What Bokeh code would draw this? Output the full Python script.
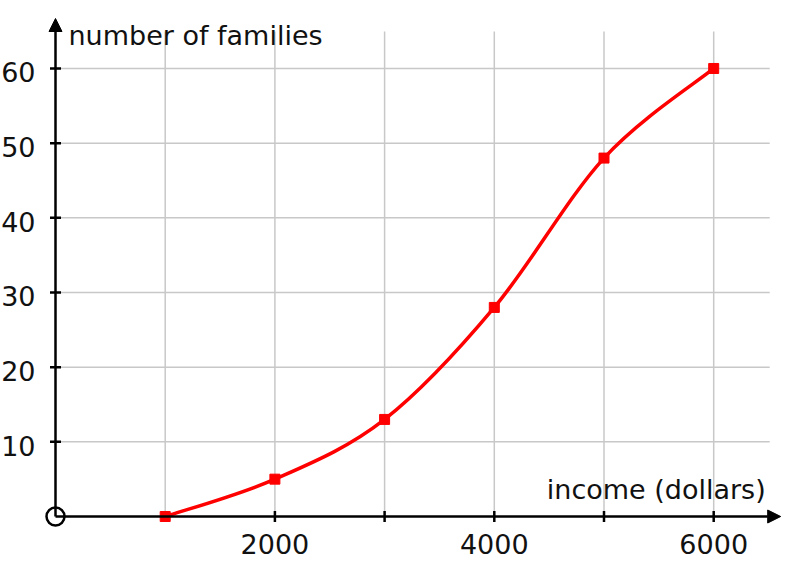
import numpy as np
from bokeh.plotting import figure
from bokeh.models import Range1d, Arrow, NormalHead
from bokeh.core.properties import value
from bokeh.embed import file_html
from bokeh.resources import INLINE

# ---- data ----
income = [1000, 2000, 3000, 4000, 5000, 6000]
families = [0, 5, 13, 28, 48, 60]
x_ticks = [1000, 2000, 3000, 4000, 5000, 6000]
x_tick_labels = ["", "2000", "", "4000", "", "6000"]
y_ticks = [10, 20, 30, 40, 50, 60]
y_tick_labels = ["10", "20", "30", "40", "50", "60"]
x_title = "income (dollars)"
y_title = "number of families"

# ---- layout ----
W, H = 797, 572
px_x = 0.1097   # px per dollar
px_y = 7.467    # px per family
ox, oy = 55, 516  # origin position inside the figure (px)
x_range = Range1d(-ox / px_x, (W - ox) / px_x)
y_range = Range1d(-(H - oy) / px_y, oy / px_y)

p = figure(width=W, height=H, x_range=x_range, y_range=y_range,
           x_axis_type=None, y_axis_type=None, output_backend="svg",
           toolbar_location=None, min_border=0, outline_line_color=None,
           background_fill_color="white", border_fill_color="white")

FONT = value("DejaVu Sans")
FS = "27px"
TXT = "#111111"
SHIFT = -10

grid_top = 485 / px_y
grid_right = 6000 + 56 / px_x
# grid
p.segment(x0=x_ticks, y0=[0] * len(x_ticks), x1=x_ticks, y1=[grid_top] * len(x_ticks),
          line_color="#c8c8c8", line_width=1.5)
p.segment(x0=[0] * len(y_ticks), y0=y_ticks, x1=[grid_right] * len(y_ticks), y1=y_ticks,
          line_color="#c8c8c8", line_width=1.5)

# axes with arrows
p.add_layout(Arrow(end=NormalHead(size=13, fill_color="black", line_color="black", line_width=1),
                   x_start=0, y_start=0, x_end=6000 + 67 / px_x, y_end=0,
                   line_color="black", line_width=2.5))
p.add_layout(Arrow(end=NormalHead(size=13, fill_color="black", line_color="black", line_width=1),
                   x_start=0, y_start=0, x_end=0, y_end=498 / px_y,
                   line_color="black", line_width=2.5))

# tick marks
p.scatter(x=x_ticks, y=[0] * len(x_ticks), marker="dash", size=11, angle=np.pi / 2,
          line_color="black", line_width=2.5)
p.scatter(x=[0] * len(y_ticks), y=y_ticks, marker="dash", size=11,
          line_color="black", line_width=2.5)

# smooth curve through points (Catmull-Rom -> cubic Bezier)
xs = np.array(income, dtype=float)
ys = np.array(families, dtype=float)
xe = np.concatenate([[xs[0]], xs, [xs[-1]]])
ye = np.concatenate([[ys[0]], ys, [ys[-1]]])
n = len(xs) - 1
bx0, by0, bx1, by1, cx0, cy0, cx1, cy1 = ([] for _ in range(8))
for i in range(n):
    j = i + 1
    bx0.append(xe[j]); by0.append(ye[j])
    bx1.append(xe[j + 1]); by1.append(ye[j + 1])
    cx0.append(xe[j] + (xe[j + 1] - xe[j - 1]) / 6)
    cy0.append(ye[j] + (ye[j + 1] - ye[j - 1]) / 6)
    cx1.append(xe[j + 1] - (xe[j + 2] - xe[j]) / 6)
    cy1.append(ye[j + 1] - (ye[j + 2] - ye[j]) / 6)
p.bezier(x0=bx0, y0=by0, x1=bx1, y1=by1, cx0=cx0, cy0=cy0, cx1=cx1, cy1=cy1,
         line_color="#ff0000", line_width=3.5)
p.scatter(x=income, y=families, marker="square", size=10,
          fill_color="#ff0000", line_color="#ff0000")

# origin circle
p.scatter(x=[0], y=[0], marker="circle", size=18, fill_color="white",
          line_color="black", line_width=2.5)

# tick labels
p.text(x=x_ticks, y=[0] * len(x_ticks), text=x_tick_labels, text_align="center",
       text_baseline="alphabetic", y_offset=37 + SHIFT, text_font=FONT, text_font_size=FS,
       text_color=TXT)
p.text(x=[0] * len(y_ticks), y=y_ticks, text=y_tick_labels, text_align="right",
       text_baseline="alphabetic", x_offset=-20, y_offset=14 + SHIFT, text_font=FONT,
       text_font_size=FS, text_color=TXT)

# axis titles
p.text(x=[0], y=[60], text=[y_title], text_align="left", text_baseline="alphabetic",
       x_offset=13, y_offset=-23 + SHIFT, text_font=FONT, text_font_size=FS, text_color=TXT)
p.text(x=[6000], y=[0], text=[x_title], text_align="right", text_baseline="alphabetic",
       x_offset=52, y_offset=-17 + SHIFT, text_font=FONT, text_font_size=FS, text_color=TXT)

open("out.html", "w").write(file_html(p, INLINE))
